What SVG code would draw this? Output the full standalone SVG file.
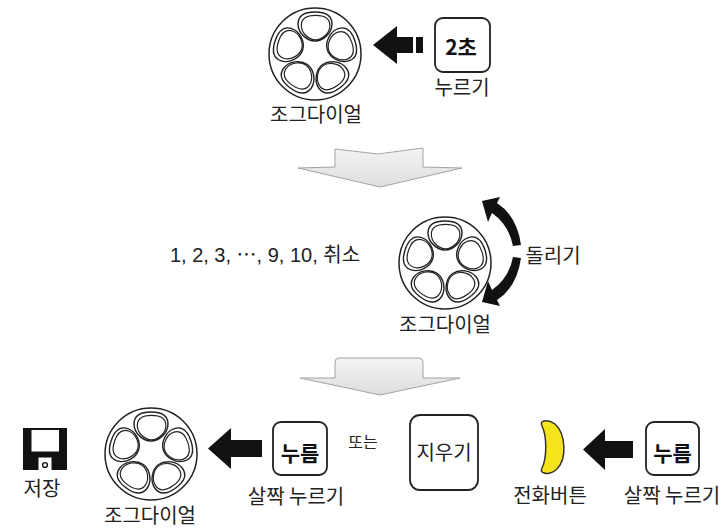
<svg xmlns="http://www.w3.org/2000/svg" xmlns:xlink="http://www.w3.org/1999/xlink" width="725" height="530" viewBox="0 0 725 530">
<style>
.ko{font-family:"Noto Sans CJK KR","Liberation Sans",sans-serif;fill:#222;text-anchor:middle}
.lbl{font-size:20px}
.btn{font-size:21px;font-weight:bold;fill:#111}
.box{fill:#fff;stroke:#222;stroke-width:1.8}
.ring{fill:#fff;stroke:#222;stroke-width:1.5}
.pet{fill:none;stroke:#222;stroke-width:1.4}
.blk{fill:#111}
.gray{fill:url(#gg);stroke:#a3a3a3;stroke-width:1}
</style>
<defs>
<linearGradient id="gg" x1="0" y1="0" x2="0" y2="1">
<stop offset="0" stop-color="#f3f3f3"/>
<stop offset="1" stop-color="#dedede"/>
</linearGradient>
<path id="petal" d="M0,-15 C12,-15 17,-11 17,-3 C17,6 8,14 0,14 C-8,14 -17,6 -17,-3 C-17,-11 -12,-15 0,-15 Z"/>
<g id="petal2">
<use xlink:href="#petal" class="pet"/>
<use xlink:href="#petal" class="pet" transform="translate(0.6,1) scale(0.84)"/>
</g>
<g id="dial">
<circle r="46" class="ring"/>
<use xlink:href="#petal2" transform="rotate(0) translate(0,-27)"/>
<use xlink:href="#petal2" transform="rotate(72) translate(0,-27)"/>
<use xlink:href="#petal2" transform="rotate(144) translate(0,-27)"/>
<use xlink:href="#petal2" transform="rotate(216) translate(0,-27)"/>
<use xlink:href="#petal2" transform="rotate(288) translate(0,-27)"/>
</g>
</defs>
<rect width="725" height="530" fill="#fff"/>

<g id="connectors">
<polygon class="blk" points="373,45 397,26 397,37 413,37 413,53 397,53 397,64"/>
<rect class="blk" x="416" y="37" width="7" height="16"/>
<path class="gray" d="M335,149 L378,154 L423,148 L423,167 L462,168 L380,187 L298,168 L335,167 Z"/>
<path class="gray" d="M335,362 Q335,358 339,358 L419,358 Q423,358 423,362 L423,378 L460,378 L380,395 L300,378 L335,378 Z"/>
<path id="rot-up" class="blk" d="M513,246 L521,245 Q517,216 497,203 L500,197 L482,201 L488,222 L492,213 Q509,225 513,246 Z"/>
<path id="rot-down" class="blk" transform="translate(0,503) scale(1,-1)" d="M513,246 L521,245 Q517,216 497,203 L500,197 L482,201 L488,222 L492,213 Q509,225 513,246 Z"/>
<polygon class="blk" points="208,448.5 231,428 231,440 262,440 262,457 231,457 231,469"/>
<polygon class="blk" points="583,449.5 605,429 605,441 633,441 633,458 605,458 605,470"/>
</g>

<g id="dial-top">
<use xlink:href="#dial" transform="translate(315,54)"/>
<text class="ko lbl" x="316" y="122">조그다이얼</text>
</g>
<g id="press-2s">
<rect class="box" x="435" y="18" width="55" height="54" rx="8"/>
<text class="ko btn" x="461" y="55">2초</text>
<text class="ko lbl" x="462" y="95">누르기</text>
</g>

<g id="options">
<text x="265" y="262" style="font-family:'Liberation Sans','Noto Sans CJK KR',sans-serif;font-size:20px;fill:#222;text-anchor:middle">1, 2, 3, ⋯, 9, 10, 취소</text>
</g>
<g id="dial-mid">
<use xlink:href="#dial" transform="translate(445,263)"/>
<text class="ko lbl" x="445" y="332">조그다이얼</text>
</g>
<g id="rotate-label">
<text class="ko lbl" x="553" y="263">돌리기</text>
</g>

<g id="save">
<rect x="23" y="428" width="44" height="42" fill="#111"/>
<rect x="31.5" y="430" width="27.5" height="21.5" fill="#fff"/>
<rect x="38.5" y="457.5" width="13" height="12.5" fill="#fff"/>
<circle cx="45" cy="465" r="2.4" fill="none" stroke="#111" stroke-width="1.4"/>
<text class="ko lbl" x="42" y="496">저장</text>
</g>
<g id="dial-bottom">
<use xlink:href="#dial" transform="translate(151,454)"/>
<text class="ko lbl" x="150" y="523">조그다이얼</text>
</g>
<g id="press-short-1">
<rect class="box" x="273" y="422" width="54" height="53" rx="8"/>
<text class="ko btn" x="300" y="461">누름</text>
<text class="ko lbl" x="296" y="504">살짝 누르기</text>
</g>
<g id="or-label">
<text class="ko" x="363" y="448" style="font-size:16px">또는</text>
</g>
<g id="delete-key">
<rect class="box" x="410" y="415" width="68" height="75" rx="10"/>
<text class="ko" x="444" y="460" style="font-size:20px">지우기</text>
</g>
<g id="call-button">
<path d="M544,421 Q549,420 555,424 C566,434 567,459 557,469 Q550,475 544,473 Q540,472 542,468 C547,458 547,436 542,426 Q540,422 544,421 Z" fill="#f4e41c" stroke="#333" stroke-width="1.5"/>
<text class="ko lbl" x="550" y="503">전화버튼</text>
</g>
<g id="press-short-2">
<rect class="box" x="646" y="422" width="53" height="53" rx="8"/>
<text class="ko btn" x="672.5" y="461">누름</text>
<text class="ko lbl" x="672" y="503">살짝 누르기</text>
</g>
</svg>
